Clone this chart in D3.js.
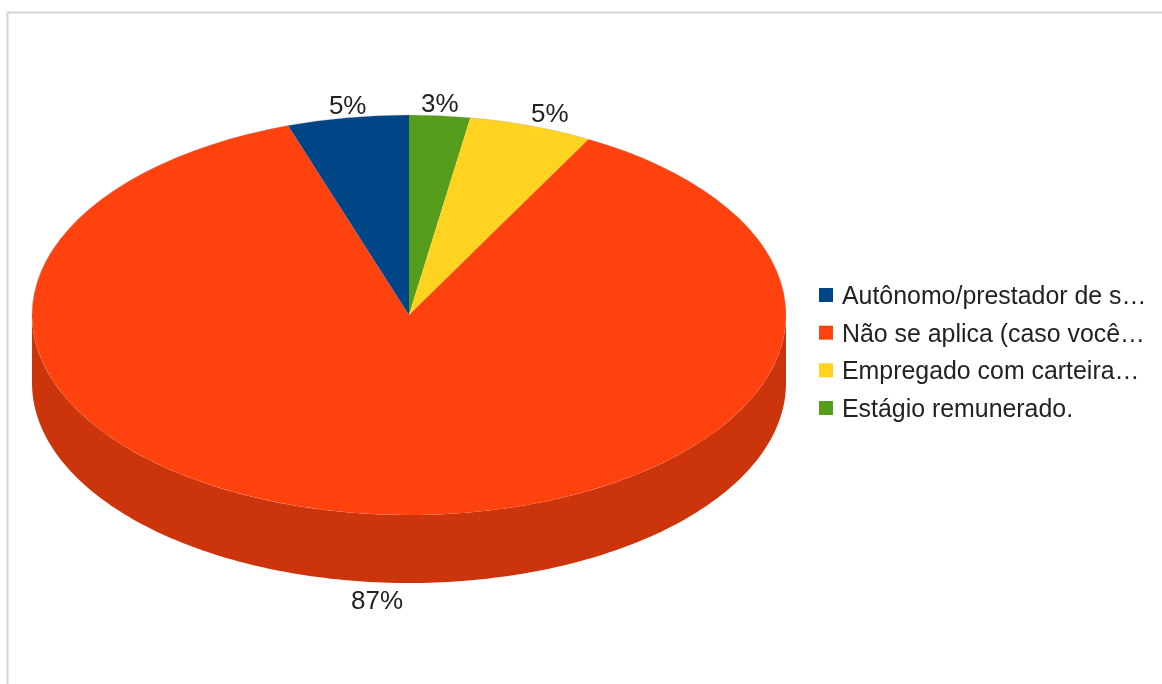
<!DOCTYPE html>
<html><head><meta charset="utf-8">
<script src="https://cdn.jsdelivr.net/npm/d3@7"></script>
<style>html,body{margin:0;padding:0;background:#fff}svg{display:block;filter:blur(0.55px)}text{font-family:"Liberation Sans",Arial,sans-serif;fill:#222}</style>
</head><body><svg id="c" width="1162" height="684"></svg>
<script>
const categories = ["Autônomo/prestador de s…","Não se aplica (caso você…","Empregado com carteira…","Estágio remunerado."];
const values = [5.2,86.9,5.3,2.6];
const labels = ["5%","87%","5%","3%"];
const colors = ["#004586","#ff420e","#ffd320","#579d1c"];
const sideColors = ["#00376b","#cc350b","#cca81a","#467e16"];

const W=1162,H=684,cx=409,cy=315,rx=377,ry=200,depth=68;
const svg=d3.select("#c");
svg.append("path").attr("d",d3.line()([[1162,12.5],[7.5,12.5],[7.5,684]])).attr("fill","none").attr("stroke","#d4d4d4").attr("stroke-width",2);

// Clockwise from 12 o'clock, the slices run: green, yellow, orange, blue.
const order=[3,2,1,0];
const pie=d3.pie().sort(null).value(i=>values[i]).startAngle(0).endAngle(2*Math.PI);
const arcs=pie(order);
const ex=t=>cx+rx*Math.sin(t), ey=t=>cy-ry*Math.cos(t);

// Side wall: front half of the ellipse, extruded
const a0=Math.PI/2, a1=3*Math.PI/2;
const wall=d3.range(0,181).map(i=>a0+(a1-a0)*i/180);
const area=d3.area().x(ex).y0(ey).y1(t=>ey(t)+depth);
svg.append("path").attr("d",area(wall)).attr("fill",sideColors[1]);

// Top face: d3.arc stretched into an ellipse
const arc=d3.arc().innerRadius(0).outerRadius(rx);
const face=svg.append("g").attr("transform",`translate(${cx},${cy}) scale(1,${ry/rx})`);
face.selectAll("path").data(arcs).join("path").attr("d",arc).attr("fill",d=>colors[d.data]);
svg.append("clipPath").attr("id","upper").append("rect").attr("x",0).attr("y",0).attr("width",W).attr("height",cy);
svg.append("ellipse").attr("cx",cx).attr("cy",cy).attr("rx",rx).attr("ry",ry).attr("fill","none").attr("stroke","#999").attr("stroke-width",0.5).attr("stroke-opacity",0.6)
  .attr("clip-path","url(#upper)");

// Percent labels
svg.selectAll("text.pct").data(arcs).join("text").attr("class","pct")
  .attr("font-size",26)
  .each(function(d){
    const t=(d.startAngle+d.endAngle)/2;
    const front=Math.cos(t)<0;
    const side=Math.abs(Math.sin(t))>0.26&&!front?(Math.sin(t)>0?"start":"end"):"middle";
    d3.select(this).attr("x",ex(t)).attr("y",ey(t)+(front?depth+18:-13))
      .attr("text-anchor",side).attr("dominant-baseline","central").text(labels[d.data]);
  });

// Legend
const ly=d3.scalePoint().domain(d3.range(categories.length)).range([295,408]);
const lg=svg.selectAll("g.l").data(categories).join("g").attr("class","l").attr("transform",(d,i)=>`translate(819,${ly(i)})`);
lg.append("rect").attr("x",0).attr("y",-7).attr("width",14).attr("height",14).attr("fill",(d,i)=>colors[i]);
lg.append("text").attr("x",23).attr("y",0).attr("font-size",24.9).attr("dominant-baseline","central").text(d=>d);
</script></body></html>
